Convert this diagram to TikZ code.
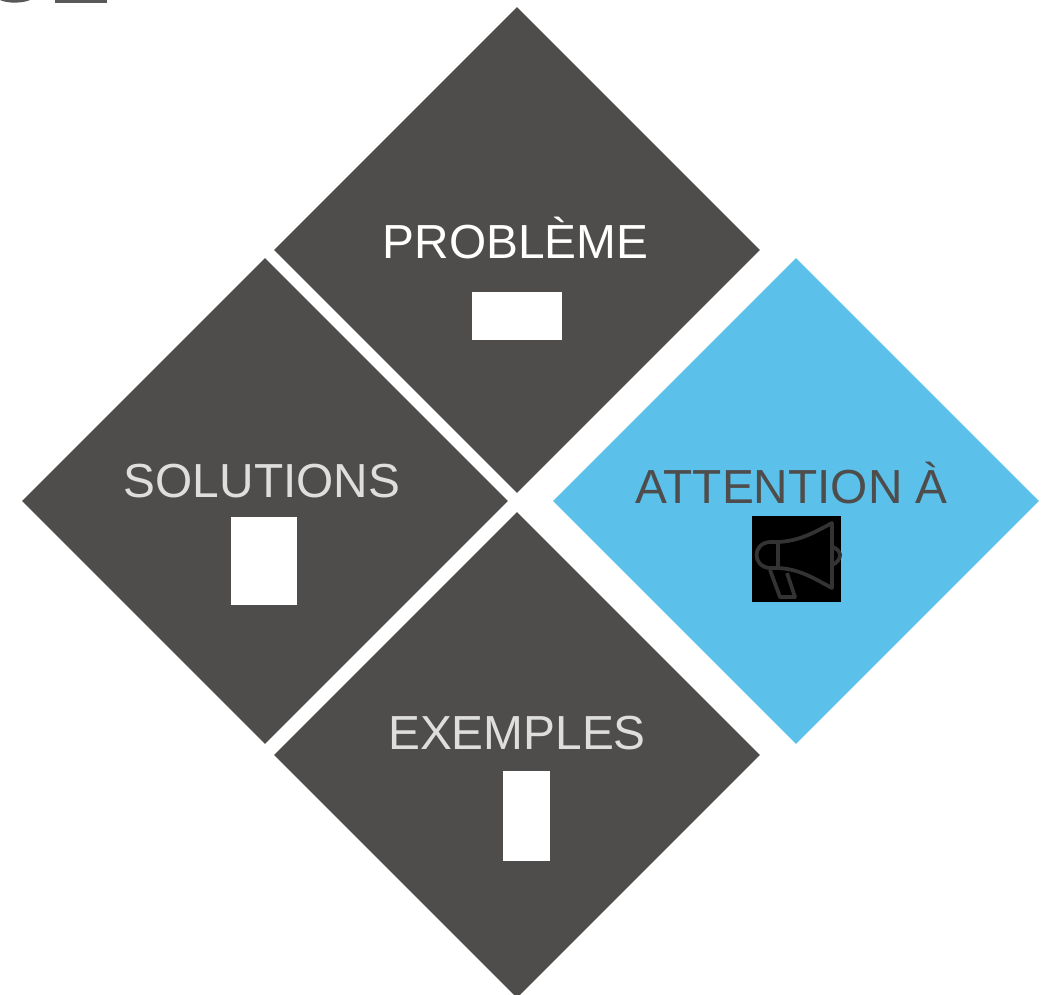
\documentclass[tikz,border=0pt]{standalone}
\usepackage{fontspec}
\setmainfont{Liberation Sans}
\usepackage{xcolor}
\usetikzlibrary{positioning,shapes.geometric}
\definecolor{darkslate}{HTML}{4E4D4B}
\definecolor{skyfill}{HTML}{5BC0EA}
\definecolor{palegrey}{HTML}{DEDEDC}
\definecolor{iconline}{HTML}{333333}
\definecolor{headgrey}{HTML}{595959}

\begin{document}
\begin{tikzpicture}[
x=0.02cm, y=-0.02cm,
tile/.style={diamond, aspect=1, inner sep=0pt, minimum width=9.72cm, minimum height=9.72cm, fill=darkslate},
label/.style={font=\fontsize{27.2}{27.2}\selectfont, inner sep=0pt},
blank/.style={rectangle, fill=white, inner sep=0pt},
iconstroke/.style={draw=iconline, line width=0.75mm, line join=round}
]
\useasboundingbox (0,0) rectangle (1048,994);

% Tiles
\node[tile] (probleme) at (517,250) {};
\node[tile] (solutions) at (265,501) {};
\node[tile, fill=skyfill] (attention) at (796,501) {};
\node[tile] (exemples) at (517,755) {};

% Labels
\node[label, text=white] (problemetext) at (515.5,238) {PROBLÈME};
\node[label, text=palegrey] (solutionstext) at (262,481) {SOLUTIONS};
\node[label, text=darkslate] (attentiontext) at (791.5,483) {ATTENTION À};
\node[label, text=palegrey] (exemplestext) at (517,733) {EXEMPLES};

% Image blocks
\node[blank, minimum width=1.8cm, minimum height=0.96cm] (problemeimg) at (517,316) {};
\node[blank, minimum width=1.32cm, minimum height=1.76cm] (solutionsimg) at (264,561) {};
\node[blank, minimum width=0.94cm, minimum height=1.8cm] (exemplesimg) at (526.5,816) {};
\node[blank, fill=black, minimum width=1.78cm, minimum height=1.72cm] (megaphone) at (796.5,559) {};

% Megaphone
\draw[iconstroke] (778,542) .. controls (800,541) and (815,532) .. (832,523) -- (832,588)
  .. controls (815,579) and (800,569) .. (778,568) -- cycle;
\draw[iconstroke] (778,542) -- (770,542) .. controls (752,543) and (752,567) .. (770,568) -- (778,568);
\draw[iconstroke] (770,570) -- (780,597) -- (795,597) -- (787,573);
\draw[iconstroke] (832,547) .. controls (837,548) and (840,552) .. (840,555) .. controls (840,559) and (837,563) .. (832,565);

% Cut-off heading
\fill[headgrey] (0,0) -- (30,0) .. controls (24,3) and (8,4) .. (0,0) -- cycle;
\fill[headgrey] (55,0) rectangle (107,3);

\end{tikzpicture}
\end{document}
